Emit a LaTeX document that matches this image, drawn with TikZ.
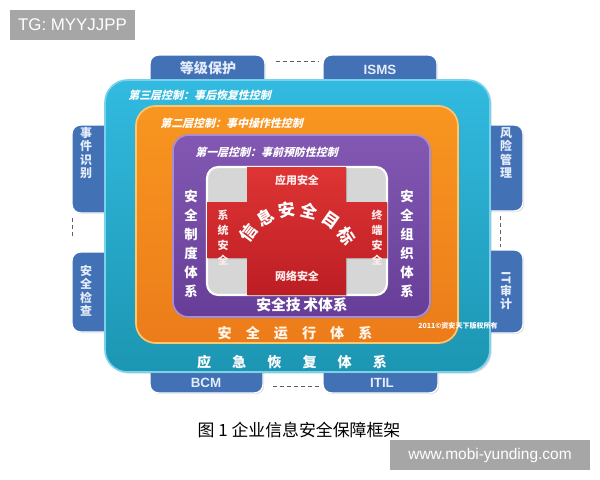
\documentclass[tikz,border=0pt]{standalone}
\usepackage{fontspec}
\setmainfont{Liberation Sans}
\newfontfamily\cjk{Noto Sans CJK SC}
\newfontfamily\cjkit[FakeSlant=0.25]{Noto Sans CJK SC}
\usepackage{tikz}
\usetikzlibrary{fit,shadows}

\definecolor{tabblue}{RGB}{66,113,182}
\definecolor{tabtext}{RGB}{228,236,250}
\definecolor{linkgray}{RGB}{95,95,95}
\definecolor{cyantop}{RGB}{50,186,224}
\definecolor{cyanbot}{RGB}{28,150,178}
\definecolor{cyanedge}{RGB}{120,210,235}
\definecolor{orangetop}{RGB}{248,150,32}
\definecolor{orangebot}{RGB}{236,124,26}
\definecolor{orangeedge}{RGB}{252,200,110}
\definecolor{purpletop}{RGB}{130,88,178}
\definecolor{purplebot}{RGB}{102,62,152}
\definecolor{purpleedge}{RGB}{170,140,210}
\definecolor{redtop}{RGB}{222,52,52}
\definecolor{redbot}{RGB}{188,30,36}
\definecolor{quadgray}{RGB}{214,214,214}
\definecolor{wmgray}{RGB}{166,166,166}

\begin{document}
\begin{tikzpicture}[x=0.025cm,y=-0.025cm,
    tab/.style={fill=tabblue,draw=white,line width=1pt,rounded corners=6pt,inner sep=0pt,
      drop shadow={shadow xshift=0.8pt,shadow yshift=-0.8pt,opacity=0.3}},
    tabtxt/.style={text=tabtext,font=\cjk\bfseries\fontsize{8.5}{9.6}\selectfont,align=center,inner sep=0pt},
    link/.style={draw=linkgray,line width=1.1pt,dash pattern=on 3pt off 2pt},
    layer/.style={line width=1.2pt,drop shadow={shadow xshift=1.2pt,shadow yshift=-1.2pt,opacity=0.3}},
    ctrl/.style={anchor=west,text=white,font=\cjkit\bfseries\fontsize{7.8}{9}\selectfont,inner sep=0pt},
    sys/.style={text=white,font=\cjk\bfseries\fontsize{10}{12}\selectfont,inner sep=0pt},
    vsys/.style={text=white,font=\cjk\bfseries\fontsize{9.5}{13.5}\selectfont,align=center,inner sep=0pt},
    part/.style={text=red!8,font=\cjk\bfseries\fontsize{7.8}{10.6}\selectfont,align=center,inner sep=0pt},
    goal/.style={text=white,font=\cjk\bfseries\fontsize{12}{13}\selectfont,inner sep=0pt},
    wm/.style={fill=wmgray,text=white,inner sep=0pt}
  ]
  \useasboundingbox (0,0) rectangle (600,480);
  \fill[white] (0,0) rectangle (600,480);

  % tabs round the frame
  \node[tab,fit={(150,55) (265,100)}] (tabdj) {};
  \node[tab,fit={(323,55) (437,100)}] (tabisms) {};
  \node[tab,fit={(72,125) (125,213)}] (tabsj) {};
  \node[tab,fit={(72,252) (125,332)}] (tabjc) {};
  \node[tab,fit={(470,125) (523,211)}] (tabfx) {};
  \node[tab,fit={(470,250) (523,333)}] (tabsi) {};
  \node[tab,fit={(150,355) (263,393)}] (tabbcm) {};
  \node[tab,fit={(323,355) (438,393)}] (tabitil) {};

  \draw[link] ([shift={(10,7)}]tabdj.north east) -- ([shift={(-3,7)}]tabisms.north west);
  \draw[link] ([shift={(1,4)}]tabsj.south west) -- ([shift={(1,-14)}]tabjc.north west);
  \draw[link] ([shift={(-23,4)}]tabfx.south east) -- ([shift={(-23,-2)}]tabsi.north east);
  \draw[link] ([shift={(9,-7)}]tabbcm.south east) -- ([shift={(-3,-7)}]tabitil.south west);

  % three layers
  \path[layer,rounded corners=16pt,top color=cyantop,bottom color=cyanbot,draw=cyanedge]
    (105,80) rectangle (490,372);
  \path[layer,rounded corners=14pt,top color=orangetop,bottom color=orangebot,draw=orangeedge]
    (136,106) rectangle (458,343);
  \path[layer,rounded corners=11pt,top color=purpletop,bottom color=purplebot,draw=purpleedge]
    (173,135) rectangle (430,317);

  % core
  \draw[fill=quadgray,draw=white,line width=1.5pt,rounded corners=8pt] (207,167) rectangle (387,295);
  \path[top color=redtop,bottom color=redbot,drop shadow={shadow xshift=0.8pt,shadow yshift=-0.8pt,opacity=0.35}]
    (247,167) -- (346,167) -- (346,202) -- (387,202) -- (387,258) -- (346,258)
    -- (346,295) -- (247,295) -- (247,258) -- (207,258) -- (207,202) -- (247,202) -- cycle;

  % texts
  \node[tabtxt,font=\cjk\bfseries\fontsize{10}{12}\selectfont] (txtdj) at (208,68) {等级保护};
  \node[tabtxt,font=\bfseries\fontsize{9.5}{11}\selectfont] (txtisms) at (380,70) {ISMS};
  \node[tabtxt] (txtsj) at (86,153) {事\\件\\识\\别};
  \node[tabtxt] (txtjc) at (86,291) {安\\全\\检\\查};
  \node[tabtxt] (txtfx) at (506,153) {风\\险\\管\\理};
  \node[tabtxt] (txtsi) at (506,291) {\rotatebox{-90}{IT}\\审\\计};
  \node[tabtxt,font=\bfseries\fontsize{9.5}{11}\selectfont] (txtbcm) at (206,383) {BCM};
  \node[tabtxt,font=\bfseries\fontsize{9.5}{11}\selectfont] (txtitil) at (382,383) {ITIL};

  \node[ctrl] (c3) at (128,95) {第三层控制：事后恢复性控制};
  \node[ctrl] (c2) at (160,123) {第二层控制：事中操作性控制};
  \node[ctrl] (c1) at (195,152) {第一层控制：事前预防性控制};

  \node[sys] (yj) at (292,362) {应\hspace{15pt}急\hspace{15pt}恢\hspace{15pt}复\hspace{15pt}体\hspace{15pt}系};
  \node[sys,text=orange!8] (yx) at (295,333) {安\hspace{10pt}全\hspace{10pt}运\hspace{10pt}行\hspace{10pt}体\hspace{10pt}系};
  \node[sys,font=\cjk\bfseries\fontsize{10.5}{12}\selectfont] (js) at (302,305) {安全技\hspace{2pt}术体系};
  \node[vsys] (zd) at (191,244) {安\\全\\制\\度\\体\\系};
  \node[vsys] (zz) at (407,244) {安\\全\\组\\织\\体\\系};

  \node[part] (yy) at (297,180) {应用安全};
  \node[part] (wl) at (297,276) {网络安全};
  \node[part] (xt) at (223,238) {系\\统\\安\\全};
  \node[part] (zd2) at (377,238) {终\\端\\安\\全};

  \foreach \c [count=\i] in {信,息,安,全,目,标} {
    \pgfmathsetmacro\a{143-22*(\i-1)}
    \node[goal,rotate=\a-90] (g\i) at ({296+60*cos(\a)},{269-60*sin(\a)}) {\c};
  }

  \node[text=white,font=\cjk\bfseries\fontsize{5}{6}\selectfont,inner sep=0pt] (cr) at (458,326) {2011©资安天下版权所有};

  \node[font=\cjk\fontsize{12}{14}\selectfont,inner sep=0pt] (cap) at (299,430) {图 1 企业信息安全保障框架};

  \node[wm,minimum width=88.6pt,minimum height=21.3pt,font=\fontsize{12}{14}\selectfont] (tg) at (72.5,25) {TG: MYYJJPP};
  \node[wm,minimum width=141.7pt,minimum height=21.3pt,font=\fontsize{11}{13}\selectfont] (www) at (490,455) {www.mobi-yunding.com};
\end{tikzpicture}
\end{document}
